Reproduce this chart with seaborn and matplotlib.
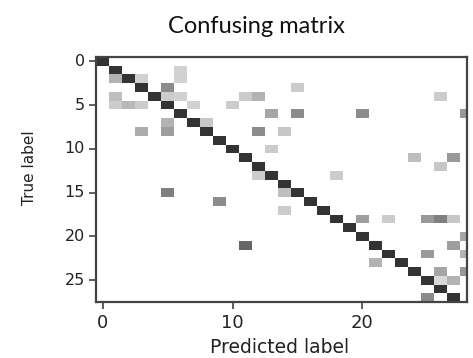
import numpy as np
import pandas as pd
import seaborn as sns
import matplotlib.pyplot as plt

# shade of each cell of the confusion matrix (0 = white, 1 = black)
N_TRUE = 28
N_PRED = 29
diag_shade = [0.80, 0.80, 0.80, 0.80, 0.80, 0.80, 0.80, 0.80, 0.80, 0.80,
              0.80, 0.80, 0.80, 0.80, 0.80, 0.80, 0.80, 0.80, 0.80, 0.80,
              0.80, 0.80, 0.80, 0.80, 0.80, 0.80, 0.80, 0.80]

# off diagonal confusions: true row, predicted column, shade
off_rows = [1, 2, 2, 2, 3, 3, 4, 4, 4, 4, 4, 4, 5, 5, 5, 5, 5, 6, 6, 6, 6, 7, 7,
            8, 8, 8, 8, 10, 11, 11, 12, 13, 13, 15, 15, 16, 17, 18, 18, 18, 18, 18,
            20, 21, 21, 22, 22, 23, 24, 24, 25, 25, 27]
off_cols = [6, 1, 3, 6, 5, 15, 1, 5, 6, 11, 12, 26, 1, 2, 3, 7, 10, 13, 15, 20, 28, 5, 8,
            3, 5, 12, 14, 13, 24, 27, 26, 12, 18, 5, 14, 9, 14, 20, 22, 25, 26, 27,
            28, 11, 27, 25, 28, 21, 26, 28, 26, 27, 25]
off_vals = [0.18, 0.30, 0.18, 0.18, 0.45, 0.20, 0.25, 0.20, 0.18, 0.20, 0.30, 0.20,
            0.20, 0.28, 0.20, 0.18, 0.20, 0.35, 0.45, 0.45, 0.40, 0.30, 0.22,
            0.33, 0.38, 0.45, 0.22, 0.20, 0.25, 0.40, 0.22, 0.20, 0.20, 0.50, 0.25,
            0.45, 0.20, 0.38, 0.20, 0.40, 0.50, 0.22, 0.35, 0.60, 0.38, 0.40, 0.30,
            0.30, 0.35, 0.40, 0.15, 0.30, 0.45]

x_ticks = [0, 10, 20]
y_ticks = [0, 5, 10, 15, 20, 25]

cm = np.zeros((N_TRUE, N_PRED))
for i, v in enumerate(diag_shade):
    cm[i, i] = v
for r, c, v in zip(off_rows, off_cols, off_vals):
    cm[r, c] = v
cm = pd.DataFrame(cm)

sns.set_style("ticks")
plt.rcParams["font.family"] = ["DejaVu Sans"]
fig = plt.figure(figsize=(4.73, 3.58), dpi=100)
ax = fig.add_axes([0.204, 0.156, 0.783, 0.685])

sns.heatmap(cm, cmap="gray_r", vmin=0, vmax=1, cbar=False, ax=ax)

# heatmap cells sit on [i, i+1], so ticks go to the centres
ax.set_xticks([t + 0.5 for t in x_ticks])
ax.set_xticklabels([str(t) for t in x_ticks], rotation=0, fontsize=13, color="#222222")
ax.set_yticks([t + 0.5 for t in y_ticks])
ax.set_yticklabels([str(t) for t in y_ticks], rotation=0, fontsize=11.5, color="#222222")
ax.set_xlim(0, 28.55)
ax.set_ylim(N_TRUE, 0)

for s in ax.spines.values():
    s.set_visible(True)
    s.set_color("#444444")
    s.set_linewidth(1.6)
ax.tick_params(length=5, width=1.2, color="#444444")

ax.set_xlabel("Predicted label", fontsize=13.5, color="#222222")
ax.set_ylabel("True label", fontsize=11, color="#222222")
ax.xaxis.set_label_coords(0.495, -0.145)
ax.yaxis.set_label_coords(-0.16, 0.55)

fig.text(0.543, 0.925, "Confusing matrix", ha="center", va="center",
         fontsize=17, family="Lato", color="#111111")

fig.savefig("out.png", dpi=100)
